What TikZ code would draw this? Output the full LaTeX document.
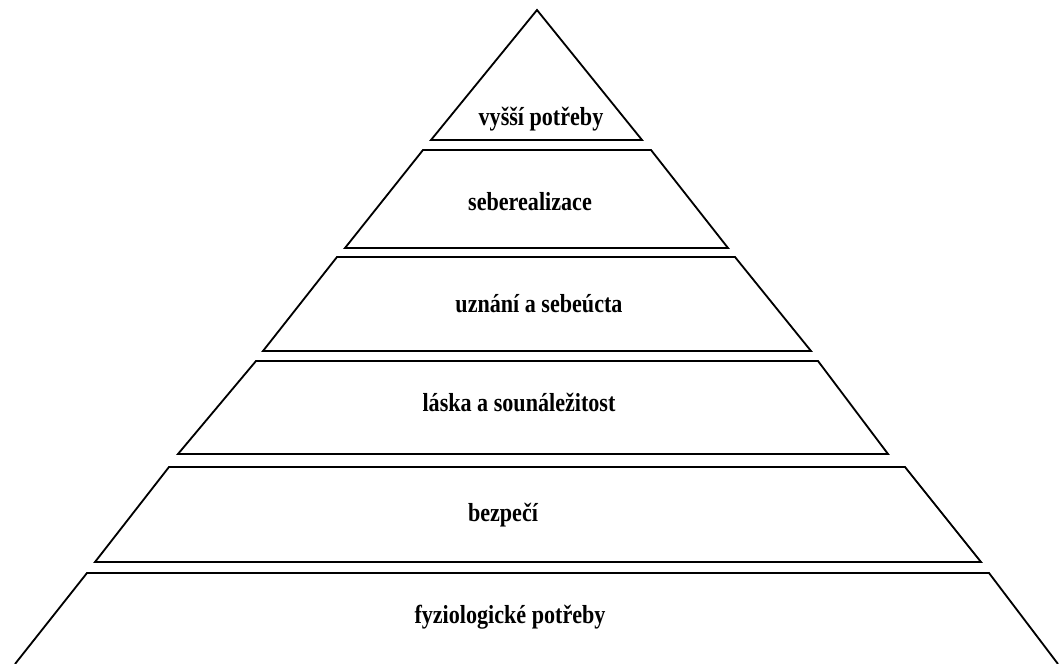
\documentclass[tikz,border=0pt]{standalone}
\usepackage{fontspec}
\setmainfont{Liberation Serif}[FakeStretch=0.85]
\usepackage{tikz}
\usetikzlibrary{positioning}
\tikzset{level/.style={draw=black, line width=1.3pt, line join=miter},
label/.style={font=\bfseries\fontsize{18.5}{22}\selectfont, anchor=base}}

\begin{document}
\begin{tikzpicture}[x=0.025cm, y=-0.025cm]
				\useasboundingbox (0,0) rectangle (1061,664);
				% vrchol
				\draw[level] (537,10) -- (642,140) -- (431,140) -- cycle;
				\node[label] (vyssi) at (541,125) {vyšší potřeby};
				% patra
				\draw[level] (423,150) -- (651,150) -- (728,248) -- (345,248) -- cycle;
				\node[label] (seberealizace) at (530,210) {seberealizace};
				\draw[level] (337,257) -- (735,257) -- (811,351) -- (263,351) -- cycle;
				\node[label] (uznani) at (539,312) {uznání a sebeúcta};
				\draw[level] (256,361) -- (818,361) -- (888,454) -- (178,454) -- cycle;
				\node[label] (laska) at (519,411) {láska a sounáležitost};
				\draw[level] (169,467) -- (905,467) -- (981,562) -- (95,562) -- cycle;
				\node[label] (bezpeci) at (503,521) {bezpečí};
				% zaklad
				\draw[level] (15,664) -- (87,573) -- (989,573) -- (1058,664);
				\node[label] (fyzio) at (510,623) {fyziologické potřeby};
\end{tikzpicture}
\end{document}
